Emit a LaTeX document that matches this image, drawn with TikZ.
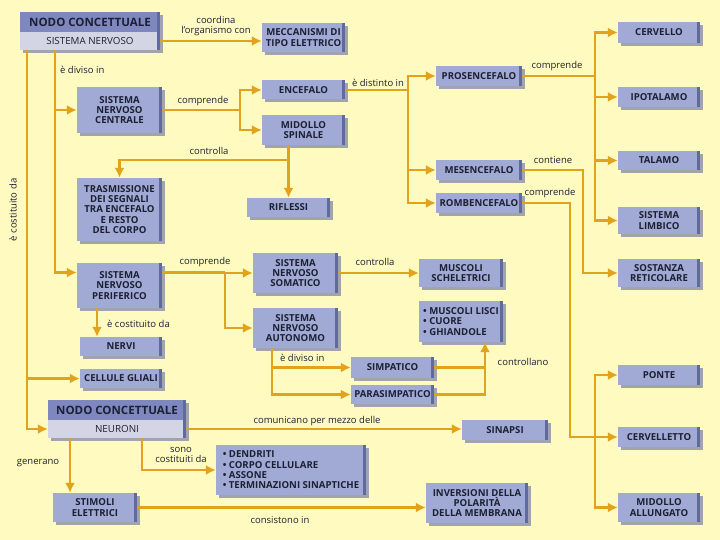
\documentclass[tikz,border=0pt]{standalone}
\usepackage{fontspec}
\setmainfont{Open Sans}
\usetikzlibrary{arrows.meta,positioning,calc,shadows}
\definecolor{Sfondo}{HTML}{FFFAC0}
\definecolor{Arancio}{HTML}{E2A21C}
\definecolor{BoxFill}{HTML}{A1AAD5}
\definecolor{BoxEdge}{HTML}{5F6AA0}
\definecolor{BoxShade}{HTML}{8A8FA8}
\definecolor{TitleFill}{HTML}{7E88BF}
\definecolor{BodyFill}{HTML}{D3D5E4}
\definecolor{Inchiostro}{HTML}{1C2033}

\begin{document}
\begin{tikzpicture}[x=1pt,y=-1pt,
    every node/.style={text=Inchiostro},
    box/.style 2 args={fill=BoxFill,align=center,inner sep=1pt,minimum width=#1,minimum height=#2,
      font=\fontsize{9.6}{10.3}\selectfont\bfseries,
      drop shadow={shadow xshift=3pt,shadow yshift=-3pt,fill=BoxShade,opacity=.8},
      path picture={\fill[BoxEdge] ([xshift=-3pt]path picture bounding box.south east) rectangle (path picture bounding box.north east);}},
    title/.style 2 args={box={#1}{#2},fill=TitleFill,font=\fontsize{11.5}{12}\selectfont\bfseries},
    body/.style 2 args={box={#1}{#2},fill=BodyFill,font=\fontsize{9.8}{10.3}\selectfont},
    lbl/.style={font=\fontsize{9.5}{10.3}\selectfont,align=center,inner sep=0pt},
    ln/.style={Arancio,line width=2.8pt},
    arr/.style={ln,-{Latex[length=10pt,width=10pt]}}
  ]
    \fill[Sfondo] (0,0) rectangle (720,540);
    \useasboundingbox (0,0) rectangle (720,540);

    \node[title={140pt}{20pt}] (snTitle) at (90,22) {NODO CONCETTUALE};
    \node[body={140pt}{18pt}] (snBody) at (90,41) {SISTEMA NERVOSO};
    \node[box={83pt}{29pt}] (mecc) at (303.5,37.5) {MECCANISMI DI\\TIPO ELETTRICO};
    \node[box={82pt}{21pt}] (cervello) at (659,32.5) {CERVELLO};
    \node[box={83pt}{19pt}] (encefalo) at (303.5,90) {ENCEFALO};
    \node[box={86pt}{20pt}] (prosenc) at (479,76) {PROSENCEFALO};
    \node[box={82pt}{20pt}] (ipotalamo) at (659,97) {IPOTALAMO};
    \node[box={85pt}{46pt}] (snc) at (119.5,110) {SISTEMA\\NERVOSO\\CENTRALE};
    \node[box={83pt}{30pt}] (midollo) at (303.5,130) {MIDOLLO\\SPINALE};
    \node[box={82pt}{19pt}] (talamo) at (659,160.5) {TALAMO};
    \node[box={86pt}{20pt}] (mesenc) at (479,170) {MESENCEFALO};
    \node[box={86pt}{20pt}] (rombenc) at (479,203) {ROMBENCEFALO};
    \node[box={85pt}{63pt}] (trasm) at (119.5,209.5) {TRASMISSIONE\\DEI SEGNALI\\TRA ENCEFALO\\E RESTO\\DEL CORPO};
    \node[box={83pt}{19pt}] (riflessi) at (288.5,207.5) {RIFLESSI};
    \node[box={82pt}{27pt}] (limbico) at (659,220.5) {SISTEMA\\LIMBICO};
    \node[box={85pt}{45pt}] (snp) at (119.5,285.5) {SISTEMA\\NERVOSO\\PERIFERICO};
    \node[box={85pt}{40pt}] (sns) at (295.5,273) {SISTEMA\\NERVOSO\\SOMATICO};
    \node[box={84pt}{28pt}] (muscSch) at (461,273) {MUSCOLI\\SCHELETRICI};
    \node[box={82pt}{28pt}] (sostanza) at (659,273) {SOSTANZA\\RETICOLARE};
    \node[box={82pt}{19pt}] (nervi) at (121,346.5) {NERVI};
    \node[box={85pt}{40pt}] (sna) at (295.5,328) {SISTEMA\\NERVOSO\\AUTONOMO};
    \node[box={84pt}{41pt},align=left] (muscLisci) at (461,321.5) {• MUSCOLI LISCI\\• CUORE\\• GHIANDOLE};
    \node[box={83pt}{21pt}] (simpatico) at (392.5,367.5) {SIMPATICO};
    \node[box={82pt}{20pt}] (ponte) at (659,375) {PONTE};
    \node[box={82pt}{19pt}] (glial) at (121,378.5) {CELLULE GLIALI};
    \node[box={83pt}{19pt}] (parasimp) at (392.5,394.5) {PARASIMPATICO};
    \node[title={138pt}{20pt}] (nTitle) at (117,410) {NODO CONCETTUALE};
    \node[body={138pt}{18pt}] (nBody) at (117,429) {NEURONI};
    \node[box={86pt}{20pt}] (sinapsi) at (505,430) {SINAPSI};
    \node[box={82pt}{20pt}] (cervelletto) at (659,437) {CERVELLETTO};
    \node[box={150pt}{50pt},align=left] (dendriti) at (291,470) {• DENDRITI\\• CORPO CELLULARE\\• ASSONE\\• TERMINAZIONI SINAPTICHE};
    \node[box={84pt}{29pt}] (stimoli) at (95,507.5) {STIMOLI\\ELETTRICI};
    \node[box={102pt}{40pt}] (inversioni) at (477,503) {INVERSIONI DELLA\\POLARITÀ\\DELLA MEMBRANA};
    \node[box={82pt}{29pt}] (midAll) at (659,507.5) {MIDOLLO\\ALLUNGATO};

    \draw[arr] (snBody.east) -- (snBody.east -| mecc.west);
    \node[lbl] at (216,26) {coordina\\l'organismo con};

    \coordinate (divSN) at (55,50);
    \draw[arr] (divSN) |- (snc.west);
    \draw[arr] (divSN) |- ([yshift=13pt]snp.west);
    \node[lbl,anchor=west] at (60,70) {è diviso in};

    \coordinate (costSN) at (27,50);
    \draw[arr] (costSN) |- (nBody.west);
    \draw[arr] (costSN) |- (glial.west);
    \node[lbl,rotate=90] at (13,210) {è costituito da};

    \coordinate (sncJ) at (240,110);
    \draw[ln] (snc.east) -- (sncJ);
    \draw[arr] (sncJ) |- (encefalo.west);
    \draw[arr] (sncJ) |- (midollo.west);
    \node[lbl] at (203,101) {comprende};

    \coordinate (encJ) at (408,90);
    \draw[ln] (encefalo.east) -- (encJ);
    \draw[arr] (encJ) |- (prosenc.west);
    \draw[arr] (encJ) |- (mesenc.west);
    \draw[arr] (encJ) |- (rombenc.west);
    \node[lbl] at (378,83) {è distinto in};

    \coordinate (prosJ) at (595,76);
    \draw[ln] (prosenc.east) -- (prosJ);
    \draw[arr] (prosJ) |- (cervello.west);
    \draw[arr] (prosJ) |- (ipotalamo.west);
    \draw[arr] (prosJ) |- (talamo.west);
    \draw[arr] (prosJ) |- (limbico.west);
    \node[lbl] at (557,66) {comprende};

    \coordinate (mesJ) at (583,170);
    \draw[arr] (mesenc.east) -- (mesJ) |- (sostanza.west);
    \node[lbl] at (553,160) {contiene};

    \coordinate (romJ) at (570,203);
    \draw[arr] (rombenc.east) -- (romJ) |- (cervelletto.west);
    \node[lbl] at (550,193) {comprende};
    \coordinate (ponJ) at (595,437);
    \draw[arr] (ponJ) |- (ponte.west);
    \draw[arr] (ponJ) |- (midAll.west);

    \draw[arr] (midollo.south -| riflessi.north) -- (riflessi.north);
    \coordinate (ctrlJ) at (288.5,160);
    \draw[arr] (ctrlJ) -| (trasm.north);
    \node[lbl] at (209,151) {controlla};

    \coordinate (snpJ) at (225,272.5);
    \draw[ln] ([yshift=13pt]snp.east) -- (snpJ);
    \draw[arr] (snpJ) |- (sns.west);
    \draw[arr] (snpJ) |- (sna.west);
    \node[lbl] at (205,262) {comprende};
    \draw[arr] (sns.east) -- (muscSch.west);
    \node[lbl] at (375,262) {controlla};
    \draw[arr] ([xshift=-22.5pt]snp.south) -- ([xshift=-22.5pt]snp.south |- nervi.north);
    \node[lbl,anchor=west] at (107,324) {è costituito da};

    \draw[arr] ([xshift=-23.5pt]sna.south) |- (simpatico.west);
    \draw[arr] ([xshift=-23.5pt]sna.south) |- (parasimp.west);
    \node[lbl,anchor=west] at (280,358) {è diviso in};

    \coordinate (lisciIn) at ([xshift=24pt]muscLisci.south);
    \draw[ln] (simpatico.east) -- (simpatico.east -| lisciIn);
    \draw[arr] (parasimp.east) -| (lisciIn);
    \node[lbl] at (523,362) {controllano};

    \draw[arr] (nBody.east) -- (nBody.east -| sinapsi.west);
    \node[lbl] at (317,421) {comunicano per mezzo delle};
    \draw[arr] ([xshift=-47pt]nBody.south) -- ([xshift=-47pt]nBody.south |- stimoli.north);
    \node[lbl] at (38,463) {generano};
    \draw[arr] ([xshift=25pt]nBody.south) |- (dendriti.west);
    \node[lbl] at (181,455) {sono\\costituiti da};
    \draw[arr] (stimoli.east) -- (stimoli.east -| inversioni.west);
    \node[lbl] at (280,520) {consistono in};
  \end{tikzpicture}
\end{document}
